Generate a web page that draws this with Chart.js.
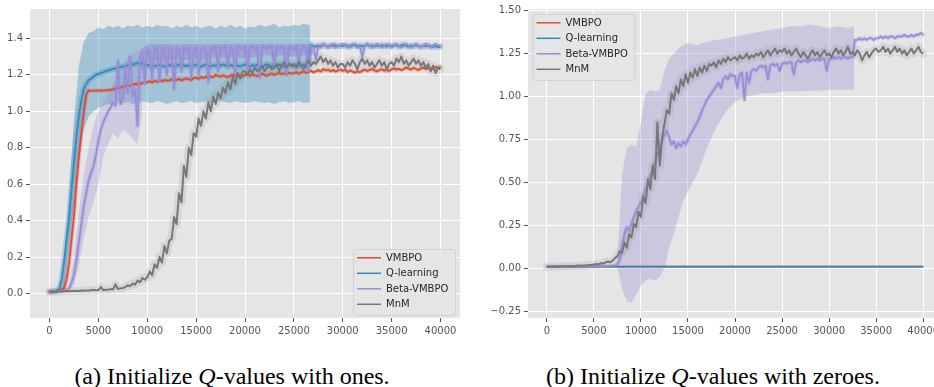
<!DOCTYPE html>
<html><head><meta charset="utf-8">
<script src="https://cdn.jsdelivr.net/npm/chart.js@4.4.1/dist/chart.umd.min.js"></script>
<style>
html,body{margin:0;padding:0;background:#fff;width:934px;height:387px;overflow:hidden;position:relative;}
#ca{position:absolute;left:0;top:0;}
#cb{position:absolute;left:470px;top:0;}
.cap{position:absolute;top:364px;font-family:"Liberation Serif","DejaVu Serif","Times New Roman",Times,serif;font-size:24px;line-height:24px;color:#000;white-space:nowrap;text-align:center;width:400px;}
</style></head><body>
<canvas id="ca" width="470" height="340"></canvas>
<canvas id="cb" width="480" height="340"></canvas>
<div class="cap" style="left:32px">(a) Initialize <i>Q</i>-values with ones.</div>
<div class="cap" style="left:513px">(b) Initialize <i>Q</i>-values with zeroes.</div>
<script>
// ---------- data ----------
const methods = ['VMBPO', 'Q-learning', 'Beta-VMBPO', 'MnM'];
const colors = ['#E24A33', '#348ABD', '#988ED5', '#777777'];
const steps = Array.from({length: 161}, (_, i) => i * 250);   // training steps 0..40000
const xTicks = [0, 5000, 10000, 15000, 20000, 25000, 30000, 35000, 40000];
const yTicksOnes = [0, 0.2, 0.4, 0.6, 0.8, 1.0, 1.2, 1.4];
const yTicksZeros = [-0.25, 0, 0.25, 0.5, 0.75, 1.0, 1.25, 1.5];

// (a) Q-values initialised with ones
const vmbpoOnes = [0.01,0.01,0.01,0.012,0.015,0.02,0.03,0.08,0.17,0.3,
0.43,0.6,0.75,0.88,0.99,1.09,1.115,1.112,1.114,1.113,
1.115,1.114,1.113,1.115,1.116,1.118,1.12,1.125,1.128,1.13,
1.135,1.138,1.14,1.142,1.145,1.15,1.148,1.152,1.155,1.158,
1.16,1.165,1.158,1.168,1.162,1.17,1.165,1.172,1.168,1.17,
1.175,1.168,1.172,1.178,1.17,1.175,1.18,1.176,1.172,1.182,
1.185,1.178,1.188,1.183,1.19,1.186,1.192,1.188,1.2,1.194,
1.19,1.198,1.192,1.188,1.196,1.2,1.194,1.202,1.197,1.192,
1.2,1.205,1.196,1.203,1.198,1.194,1.2,1.207,1.2,1.196,
1.203,1.208,1.2,1.206,1.211,1.204,1.209,1.202,1.212,1.207,
1.21,1.215,1.206,1.213,1.218,1.21,1.216,1.222,1.214,1.22,
1.226,1.218,1.232,1.224,1.229,1.22,1.226,1.218,1.223,1.228,
1.222,1.228,1.215,1.224,1.218,1.212,1.22,1.214,1.223,1.229,
1.221,1.227,1.232,1.224,1.219,1.226,1.231,1.223,1.228,1.222,
1.23,1.236,1.228,1.234,1.226,1.232,1.24,1.234,1.229,1.238,
1.232,1.227,1.235,1.241,1.233,1.238,1.23,1.236,1.242,1.238,
1.245];
const qOnes = [0.01,0.01,0.012,0.015,0.03,0.08,0.18,0.3,0.41,0.57,
0.72,0.86,0.97,1.06,1.12,1.15,1.17,1.18,1.19,1.2,
1.205,1.21,1.215,1.22,1.225,1.228,1.233,1.236,1.24,1.243,
1.247,1.25,1.252,1.256,1.258,1.26,1.263,1.265,1.26,1.257,
1.255,1.25,1.253,1.248,1.252,1.256,1.25,1.245,1.251,1.255,
1.25,1.246,1.252,1.257,1.25,1.254,1.248,1.252,1.245,1.25,
1.255,1.249,1.245,1.252,1.256,1.25,1.246,1.253,1.249,1.255,
1.25,1.258,1.252,1.247,1.253,1.249,1.256,1.251,1.246,1.252,
1.257,1.25,1.246,1.254,1.249,1.255,1.25,1.246,1.252,1.258,
1.251,1.247,1.253,1.249,1.256,1.25,1.245,1.252,1.257,1.251,
1.248,1.254,1.25,1.256,1.252,1.248,1.255,1.365,1.36,1.355,
1.362,1.357,1.365,1.36,1.355,1.362,1.358,1.364,1.356,1.361,
1.357,1.363,1.359,1.354,1.36,1.366,1.358,1.362,1.356,1.36,
1.365,1.358,1.362,1.356,1.361,1.357,1.364,1.359,1.355,1.362,
1.358,1.364,1.36,1.356,1.362,1.367,1.359,1.355,1.361,1.357,
1.363,1.358,1.354,1.36,1.356,1.362,1.357,1.353,1.359,1.352,
1.355];
const betaOnes = [0.01,0.01,0.01,0.01,0.011,0.012,0.015,0.02,0.03,0.06,
0.1,0.18,0.28,0.38,0.48,0.55,0.62,0.66,0.7,0.76,
0.84,0.9,0.94,0.97,1.0,1.02,1.05,1.03,1.28,1.04,
1.07,1.25,1.1,1.3,1.08,1.12,0.92,1.3,1.33,1.15,
1.34,1.33,1.18,1.35,1.34,1.16,1.35,1.34,1.2,1.35,
1.34,1.12,1.35,1.34,1.22,1.35,1.33,1.35,1.18,1.34,
1.35,1.2,1.34,1.35,1.33,1.16,1.35,1.34,1.36,1.22,
1.35,1.34,1.36,1.24,1.35,1.34,1.2,1.36,1.35,1.34,
1.36,1.22,1.35,1.36,1.34,1.35,1.18,1.36,1.35,1.34,
1.36,1.35,1.25,1.36,1.34,1.36,1.35,1.2,1.36,1.35,
1.34,1.36,1.26,1.35,1.36,1.34,1.22,1.36,1.35,1.28,
1.36,1.35,1.37,1.36,1.35,1.36,1.37,1.35,1.36,1.36,
1.37,1.36,1.35,1.36,1.37,1.36,1.35,1.36,1.3,1.36,
1.37,1.36,1.35,1.36,1.37,1.36,1.35,1.36,1.37,1.36,
1.35,1.36,1.37,1.36,1.35,1.36,1.37,1.36,1.35,1.36,
1.37,1.36,1.35,1.36,1.37,1.36,1.35,1.36,1.37,1.36,
1.36];
const mnmOnes = [0.01,0.01,0.01,0.01,0.012,0.011,0.012,0.013,0.012,0.014,
0.013,0.015,0.014,0.016,0.015,0.017,0.016,0.018,0.02,0.017,
0.019,0.035,0.018,0.021,0.02,0.024,0.022,0.05,0.025,0.028,
0.03,0.035,0.045,0.04,0.055,0.048,0.07,0.062,0.085,0.075,
0.09,0.12,0.1,0.16,0.14,0.2,0.17,0.26,0.22,0.29,
0.3,0.42,0.38,0.55,0.5,0.7,0.64,0.8,0.76,0.88,
0.86,0.96,0.92,1.0,0.96,1.05,1.0,1.08,1.04,1.1,
1.07,1.13,1.1,1.16,1.12,1.19,1.15,1.21,1.18,1.22,
1.22,1.2,1.23,1.21,1.24,1.22,1.23,1.25,1.22,1.24,
1.25,1.23,1.24,1.26,1.22,1.25,1.27,1.24,1.26,1.25,
1.26,1.24,1.27,1.25,1.23,1.26,1.28,1.25,1.27,1.26,
1.28,1.3,1.27,1.29,1.26,1.28,1.25,1.27,1.24,1.26,
1.26,1.24,1.27,1.25,1.28,1.26,1.23,1.27,1.29,1.26,
1.28,1.25,1.27,1.24,1.26,1.28,1.25,1.27,1.23,1.26,
1.27,1.25,1.29,1.27,1.3,1.26,1.28,1.25,1.27,1.29,
1.26,1.28,1.25,1.27,1.24,1.26,1.22,1.25,1.21,1.24,
1.23];
// shaded spread bands (a)
const qBandOnesX = [1000,1500,2000,2500,3000,3500,4000,4500,5000,5500,
6000,6500,7000,7500,8000,8500,9000,9500,10000,10500,
11000,11500,12000,12500,13000,13500,14000,14500,15000,15500,
16000,16500,17000,17500,18000,18500,19000,19500,20000,20500,
21000,21500,22000,22500,23000,23500,24000,24500,25000,25500,
26000,26500,26650];
const qBandOnesHi = [0.03,0.22,0.55,0.95,1.25,1.38,1.43,1.44,1.46,1.45,
1.47,1.46,1.47,1.455,1.47,1.465,1.475,1.46,1.47,1.46,
1.475,1.465,1.47,1.455,1.47,1.46,1.475,1.46,1.47,1.455,
1.465,1.47,1.455,1.47,1.46,1.475,1.46,1.47,1.455,1.465,
1.46,1.475,1.465,1.47,1.48,1.46,1.47,1.465,1.475,1.47,
1.48,1.475,1.47];
const qBandOnesLo = [0.005,0.02,0.25,0.5,0.72,0.9,0.97,1.0,1.02,1.03,
1.04,1.035,1.05,1.045,1.05,1.04,1.05,1.055,1.05,1.045,
1.055,1.05,1.04,1.05,1.055,1.045,1.05,1.055,1.045,1.05,
1.055,1.045,1.05,1.06,1.05,1.045,1.055,1.05,1.045,1.05,
1.055,1.05,1.045,1.05,1.04,1.05,1.055,1.045,1.05,1.055,
1.045,1.05,1.05];
const betaBandOnesX = [2000,2500,3000,3500,4000,4500,5000,5500,6000,6500,
7000,7500,8000,8500,9000,9500];
const betaBandOnesHi = [0.03,0.2,0.45,0.65,0.8,0.92,1.0,1.05,1.1,1.15,
1.2,1.25,1.3,1.32,1.33,1.35];
const betaBandOnesLo = [0.01,0.05,0.15,0.3,0.42,0.5,0.6,0.75,0.82,0.88,
0.85,0.9,0.88,0.85,0.82,1.0];
const betaCombOnesX = [9500,10000,11000,12000,13000,14000,15000,16000,17000,18000,
19000,20000,21000,22000,23000,24000,25000,26000,26900];
const betaCombOnesHi = [1.35,1.365,1.37,1.37,1.365,1.37,1.37,1.365,1.37,1.37,
1.37,1.365,1.37,1.37,1.37,1.365,1.37,1.37,1.37];
const betaCombOnesLo = [1.2,1.27,1.28,1.27,1.29,1.28,1.29,1.28,1.3,1.29,
1.3,1.29,1.3,1.31,1.3,1.31,1.3,1.31,1.31];

// (b) Q-values initialised with zeroes
const flatX = [0, 40000];
const vmbpoZeros = [0.01, 0.01];
const qZeros = [0.01, 0.01];
const betaZeros = [0.01,0.01,0.01,0.01,0.01,0.01,0.01,0.011,0.01,0.011,
0.011,0.01,0.011,0.012,0.011,0.012,0.011,0.012,0.012,0.013,
0.012,0.013,0.012,0.014,0.013,0.014,0.015,0.014,0.016,0.018,
0.02,0.05,0.12,0.2,0.24,0.22,0.26,0.3,0.33,0.36,
0.38,0.42,0.46,0.5,0.54,0.57,0.62,0.66,0.7,0.74,
0.78,0.8,0.76,0.72,0.74,0.7,0.73,0.71,0.74,0.72,
0.75,0.78,0.8,0.83,0.85,0.88,0.92,0.95,0.98,1.0,
1.02,1.04,1.06,1.08,1.05,1.1,1.12,1.1,1.13,1.12,
1.12,1.05,1.13,1.14,0.98,1.14,1.08,1.15,1.16,1.15,
1.17,1.18,1.17,1.18,1.1,1.18,1.19,1.18,1.19,1.15,
1.19,1.2,1.19,1.2,1.2,1.13,1.2,1.21,1.2,1.21,
1.21,1.2,1.21,1.22,1.21,1.22,1.21,1.22,1.22,1.15,
1.22,1.22,1.23,1.22,1.23,1.22,1.23,1.23,1.22,1.23,
1.23,1.33,1.33,1.34,1.33,1.34,1.33,1.34,1.34,1.33,
1.34,1.34,1.35,1.34,1.35,1.34,1.35,1.35,1.34,1.35,
1.35,1.35,1.36,1.35,1.35,1.36,1.35,1.36,1.36,1.37,
1.36];
const mnmZeros = [0.01,0.01,0.01,0.011,0.01,0.012,0.011,0.012,0.013,0.012,
0.013,0.014,0.013,0.015,0.016,0.015,0.017,0.018,0.02,0.019,
0.022,0.025,0.023,0.03,0.028,0.035,0.04,0.036,0.045,0.06,
0.07,0.1,0.09,0.15,0.12,0.2,0.18,0.26,0.24,0.33,
0.3,0.42,0.38,0.52,0.46,0.6,0.52,0.85,0.6,0.76,
0.84,0.92,0.9,1.02,0.98,1.06,1.02,1.1,1.06,1.13,
1.08,1.14,1.11,1.16,1.12,1.17,1.14,1.18,1.15,1.19,
1.18,1.2,1.17,1.21,1.19,1.22,1.2,1.23,1.21,1.22,
1.23,1.21,1.24,1.22,1.23,1.25,1.22,1.24,1.23,1.25,
1.24,1.26,1.23,1.25,1.27,1.24,1.26,1.28,1.25,1.27,
1.26,1.28,1.25,1.27,1.24,1.26,1.28,1.25,1.23,1.26,
1.24,1.22,1.25,1.27,1.24,1.26,1.23,1.25,1.27,1.24,
1.25,1.23,1.26,1.28,1.25,1.27,1.24,1.26,1.29,1.25,
1.26,1.24,1.27,1.25,1.21,1.24,1.26,1.23,1.25,1.27,
1.28,1.26,1.27,1.29,1.26,1.28,1.25,1.27,1.29,1.26,
1.28,1.25,1.27,1.24,1.26,1.28,1.25,1.27,1.29,1.26,
1.25];
const betaBandZerosX = [7000,7500,7750,8000,8500,9000,9500,10000,10500,11000,
11500,12000,12500,13000,13500,14000,14500,15000,16000,17000,
18000,19000,20000,21000,22000,23000,24000,25000,26000,27000,
28000,29000,30000,31000,32000,32650];
const betaBandZerosHi = [0.015,0.04,0.3,0.55,0.7,0.72,0.71,0.85,1.02,1.04,
1.03,1.04,1.15,1.22,1.25,1.28,1.3,1.31,1.3,1.32,
1.33,1.34,1.35,1.36,1.37,1.38,1.39,1.4,1.41,1.41,
1.42,1.41,1.4,1.41,1.4,1.41];
const betaBandZerosLo = [0.01,0.0,-0.05,-0.12,-0.19,-0.2,-0.15,-0.1,-0.07,-0.06,
-0.07,-0.05,0.0,0.12,0.2,0.3,0.39,0.45,0.55,0.7,
0.82,0.91,0.97,1.0,1.01,1.02,1.02,1.03,1.03,1.03,
1.035,1.035,1.04,1.04,1.04,1.04];

// ---------- helpers ----------
const pts = (xs, ys) => ys.map((y, i) => ({x: xs[i], y}));
function rgba(hex, a) {
  const n = parseInt(hex.slice(1), 16);
  return `rgba(${(n >> 16) & 255},${(n >> 8) & 255},${n & 255},${a})`;
}
function line(label, xs, ys, color, order, width) {
  return {label, data: pts(xs, ys), borderColor: color, backgroundColor: color, borderWidth: width || 1.8,
    pointRadius: 0, fill: false, tension: 0, order, borderJoinStyle: 'round'};
}
function halo(xs, ys, color, width, alpha, order) {
  return {label: '', data: pts(xs, ys), borderColor: rgba(color, alpha), borderWidth: width,
    pointRadius: 0, fill: false, tension: 0, order, borderJoinStyle: 'round', borderCapStyle: 'round'};
}
function band(xs, hi, lo, color, alpha, order) {
  return [
    {label: '', data: pts(xs, hi), borderColor: 'rgba(0,0,0,0)', borderWidth: 0, pointRadius: 0,
      backgroundColor: rgba(color, alpha), fill: '+1', tension: 0, order},
    {label: '', data: pts(xs, lo), borderColor: 'rgba(0,0,0,0)', borderWidth: 0, pointRadius: 0,
      fill: false, tension: 0, order}
  ];
}

const plotBg = {
  id: 'plotBg',
  beforeDraw(chart) {
    const {ctx, chartArea: a} = chart;
    ctx.save();
    ctx.fillStyle = '#E5E5E5';
    ctx.fillRect(a.left, a.top, a.right - a.left, a.bottom - a.top);
    ctx.restore();
  }
};
const insetLegend = {
  id: 'insetLegend',
  afterDraw(chart, args, o) {
    const {ctx, chartArea: a} = chart;
    const w = 102, h = 66;
    const left = o.anchor === 'br' ? a.right - 5 - w : a.left + 4.5;
    const top = o.anchor === 'br' ? a.bottom - 3 - h : a.top + 5;
    ctx.save();
    ctx.beginPath();
    if (ctx.roundRect) ctx.roundRect(left + 0.5, top + 0.5, w, h, 3); else ctx.rect(left + 0.5, top + 0.5, w, h);
    ctx.fillStyle = 'rgba(229,229,229,0.8)';
    ctx.fill();
    ctx.strokeStyle = 'rgba(204,204,204,0.8)';
    ctx.lineWidth = 1;
    ctx.stroke();
    ctx.font = '10px "DejaVu Sans"';
    ctx.textBaseline = 'middle';
    methods.forEach((m, i) => {
      const y = top + 8.8 + i * 15.5;
      ctx.strokeStyle = colors[i];
      ctx.lineWidth = 1.5;
      ctx.beginPath();
      ctx.moveTo(left + 4, y);
      ctx.lineTo(left + 28, y);
      ctx.stroke();
      ctx.fillStyle = '#262626';
      ctx.fillText(m, left + 33, y + 0.5);
    });
    ctx.restore();
  }
};

Chart.defaults.font.family = "'DejaVu Sans', sans-serif";
Chart.defaults.font.size = 10;
Chart.defaults.color = '#555555';

function makeOptions(yMin, yMax, yTicks, yWidth, pad, fmt, anchor) {
  return {
    responsive: false, animation: false, devicePixelRatio: 1,
    layout: {padding: pad},
    plugins: {legend: {display: false}, tooltip: {enabled: false}, insetLegend: {anchor}},
    scales: {
      x: {type: 'linear', min: -2000, max: 42000,
        afterBuildTicks: s => { s.ticks = xTicks.map(v => ({value: v})); },
        afterFit: s => { s.height = 22; },
        ticks: {autoSkip: false, maxRotation: 0, padding: 3, color: '#555555', callback: v => String(v)},
        grid: {color: '#FFFFFF', lineWidth: 1, tickColor: '#555555', tickLength: 4, tickWidth: 1},
        border: {display: false}},
      y: {type: 'linear', min: yMin, max: yMax,
        afterBuildTicks: s => { s.ticks = yTicks.map(v => ({value: v})); },
        afterFit: s => { s.width = yWidth; },
        ticks: {autoSkip: false, padding: 3, color: '#555555', callback: fmt},
        grid: {color: '#FFFFFF', lineWidth: 1, tickColor: '#555555', tickLength: 4, tickWidth: 1},
        border: {display: false}}
    }
  };
}

// ---------- chart (a) ----------
new Chart(document.getElementById('ca'), {
  type: 'line',
  data: {datasets: [
    line(methods[3], steps, mnmOnes, colors[3], 1, 2),
    line(methods[2], steps, betaOnes, colors[2], 2),
    line(methods[1], steps, qOnes, colors[1], 3),
    line(methods[0], steps, vmbpoOnes, colors[0], 4),
    halo(steps, mnmOnes, colors[3], 8, 0.14, 5),
    halo(steps, betaOnes, colors[2], 4, 0.3, 6),
    halo(steps, qOnes, colors[1], 6, 0.3, 7),
    halo(steps, vmbpoOnes, colors[0], 4, 0.3, 8),
    ...band(betaCombOnesX, betaCombOnesHi, betaCombOnesLo, colors[2], 0.6, 9),
    ...band(betaBandOnesX, betaBandOnesHi, betaBandOnesLo, colors[2], 0.3, 10),
    ...band(qBandOnesX, qBandOnesHi, qBandOnesLo, colors[1], 0.38, 11)
  ]},
  options: makeOptions(-0.1346, 1.5616, yTicksOnes, 30, {left: 0, right: 10, top: 3, bottom: 0},
    v => Number(v).toFixed(1), 'br'),
  plugins: [plotBg, insetLegend]
});

// ---------- chart (b) ----------
new Chart(document.getElementById('cb'), {
  type: 'line',
  data: {datasets: [
    line(methods[3], steps, mnmZeros, colors[3], 1, 2),
    line(methods[2], steps, betaZeros, colors[2], 2),
    line(methods[1], flatX, qZeros, colors[1], 3),
    line(methods[0], flatX, vmbpoZeros, colors[0], 4),
    halo(steps, mnmZeros, colors[3], 8, 0.14, 5),
    halo(steps, betaZeros, colors[2], 4, 0.3, 6),
    ...band(betaBandZerosX, betaBandZerosHi, betaBandZerosLo, colors[2], 0.35, 9)
  ]},
  options: makeOptions(-0.289, 1.51, yTicksZeros, 58, {left: 0, right: 8, top: 5, bottom: 0},
    v => { const s = Number(v).toFixed(2); return s.replace('-', '\u2212'); }, 'tl'),
  plugins: [plotBg, insetLegend]
});
</script>
</body></html>
